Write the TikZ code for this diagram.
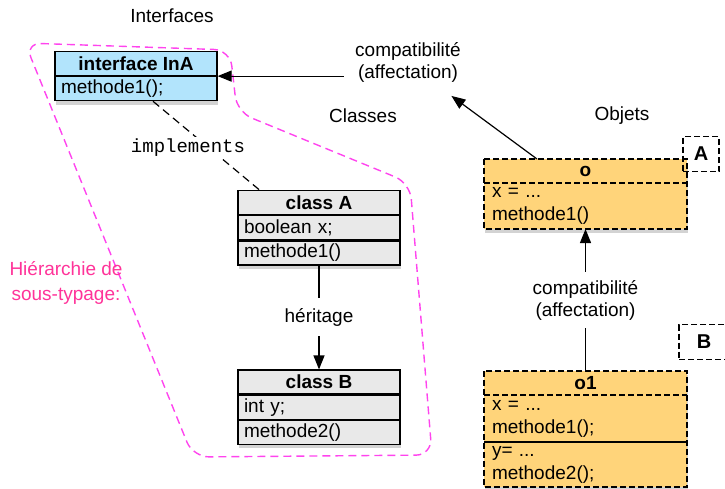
\documentclass[tikz,border=0pt]{standalone}
\usepackage{fontspec}
\setmainfont{Liberation Sans}
\setmonofont{Liberation Mono}
\usetikzlibrary{positioning,arrows.meta,shadows}

\definecolor{ifblue}{RGB}{178,228,252}
\definecolor{clgrey}{RGB}{233,233,233}
\definecolor{objorange}{RGB}{255,212,122}
\definecolor{hierpink}{RGB}{255,51,153}
\definecolor{hiermag}{RGB}{255,68,238}

\begin{document}
\begin{tikzpicture}[x=1pt,y=-1pt,>={Triangle[length=14pt,width=11pt]},line width=1.2pt,
    txt/.style={font=\fontsize{19}{22}\selectfont,align=center},
    boxshadow/.style={drop shadow={shadow xshift=1pt,shadow yshift=-4pt,opacity=0.35}},
    boxhead/.style={draw,line width=1.2pt,minimum width=162pt,minimum height=24pt,inner sep=0pt,font=\fontsize{19}{22}\selectfont\bfseries,boxshadow},
    boxrow/.style={draw,line width=1.2pt,minimum height=24pt,text width=150pt,inner xsep=6pt,inner ysep=0pt,align=left,font=\fontsize{19}{22}\selectfont,boxshadow},
    objhead/.style={fill=objorange,minimum width=203pt,minimum height=24pt,inner sep=0pt,outer sep=0pt,font=\fontsize{19}{22}\selectfont\bfseries,boxshadow},
    objrow/.style={fill=objorange,text width=187pt,inner xsep=8pt,inner ysep=0pt,outer sep=0pt,align=left,font=\fontsize{19}{23}\selectfont,boxshadow},
    objline/.style={line width=1.4pt,dash pattern=on 6pt off 3pt},
    tagbox/.style={draw,line width=1.4pt,dash pattern=on 6pt off 3pt,minimum height=35pt,font=\fontsize{20}{22}\selectfont\bfseries},
    hierline/.style={hiermag,line width=1.4pt,dash pattern=on 8pt off 5pt,rounded corners=16pt}]

    \useasboundingbox (0,0) rectangle (725,488);

    % sous-typage
    \draw[hierline] (25,43) -- (230,50) -- (237,112) -- (410,183) -- (432,455) -- (193,457) -- cycle;
    \node[txt,text=hierpink,font=\fontsize{19}{25}\selectfont] (hier) at (66,283) {Hiérarchie de\\sous-typage:};

    \node[txt] (interfaces) at (172,16) {Interfaces};
    \node[txt] (classes) at (363,116) {Classes};
    \node[txt] (objets) at (622,116) {Objets};

    % interface
    \node[boxhead,fill=ifblue] (ina) at (136,63.5) {interface InA};
    \node[boxrow,fill=ifblue] (inam) [below=0pt of ina] {methode1();};

    % classes
    \node[boxhead,fill=clgrey] (ca) at (319,202.5) {class A};
    \node[boxrow,fill=clgrey] (cax) [below=0pt of ca] {boolean x;};
    \node[boxrow,fill=clgrey] (cam) [below=0pt of cax] {methode1()};

    \node[boxhead,fill=clgrey] (cb) at (319,382) {class B};
    \node[boxrow,fill=clgrey] (cby) [below=0pt of cb] {int y;};
    \node[boxrow,fill=clgrey] (cbm) [below=0pt of cby] {methode2()};

    % objets
    \node[objhead] (o) at (585.5,171) {o};
    \node[objrow,minimum height=46pt] (obody) [below=0pt of o] {x = ...\\methode1()};
    \draw[objline] (o.north west) rectangle (obody.south east);
    \draw[objline] (o.south west) -- (o.south east);

    \node[objhead] (o1) at (585.5,383) {o1};
    \node[objrow,minimum height=47pt] (o1a) [below=0pt of o1] {x = ...\\methode1();};
    \node[objrow,minimum height=45pt] (o1b) [below=0pt of o1a] {y= ...\\methode2();};
    \draw[objline] (o1.north west) rectangle (o1b.south east);
    \draw[objline] (o1.south west) -- (o1.south east);
    \draw[line width=1.4pt] (o1a.south west) -- (o1a.south east);

    \node[tagbox,minimum width=36pt] (taga) at (701,154) {A};
    \node[tagbox,minimum width=50pt] (tagb) at (704,342) {B};

    % liens
    \node[txt,inner xsep=11pt] (compat1) at (408,62) {compatibilité\\(affectation)};
    \draw[->] (compat1.west |- ina.south) -- (ina.south east);
    \draw[->] ([xshift=53pt]o.north west) -- ([xshift=-21pt,yshift=-10pt]compat1.south east);

    \draw[dash pattern=on 8pt off 5pt] ([xshift=17pt]inam.south) -- ([xshift=22pt]ca.north west);
    \node[font=\ttfamily\fontsize{19}{22}\selectfont,fill=white,inner sep=2pt] (impl) at (188,148) {implements};

    \draw[->] (cam.south) -- node[txt,fill=white,inner ysep=10pt] (herit) {héritage} (cb.north);
    \draw[->] (o1.north) -- node[txt,fill=white,inner ysep=8pt] (compat2) {compatibilité\\(affectation)} (obody.south);

\end{tikzpicture}
\end{document}
